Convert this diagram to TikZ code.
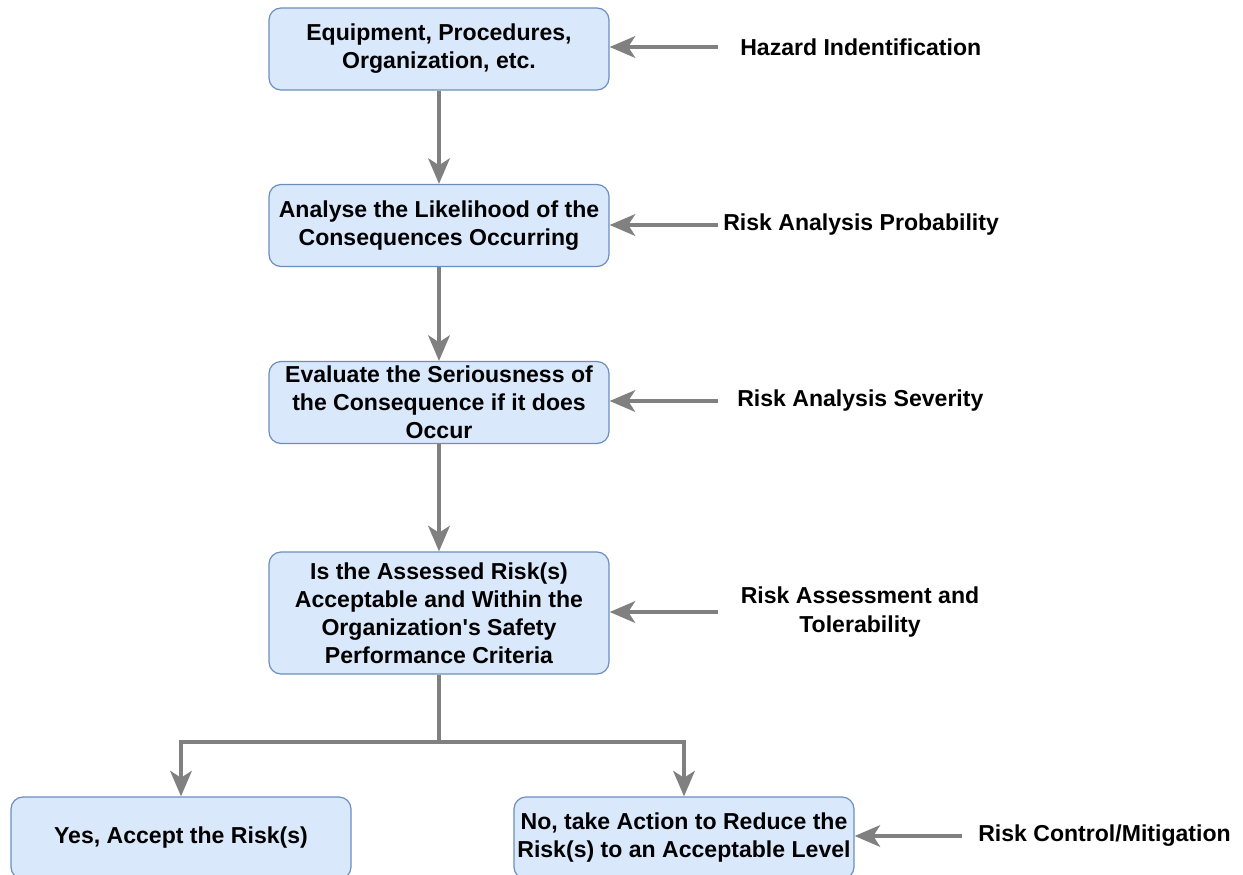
\documentclass[tikz,border=0pt]{standalone}
\usepackage{fontspec}
\setmainfont{Liberation Sans}
\usetikzlibrary{arrows.meta}
\definecolor{boxfill}{HTML}{DAE8FC}
\definecolor{boxline}{HTML}{6C8EBF}
\definecolor{flowgray}{HTML}{808080}
\begin{document}
\begin{tikzpicture}[x=0.75pt,y=-0.75pt,
  stepbox/.style={draw=boxline, fill=boxfill, line width=0.9pt, rounded corners=9pt,
    minimum width=255pt, minimum height=61.5pt, align=center, inner sep=2pt,
    font=\fontsize{17.3}{21}\selectfont\bfseries},
  tag/.style={align=center, inner sep=0pt, font=\fontsize{17.3}{21.5}\selectfont\bfseries},
  link/.style={draw=flowgray, line width=3.5pt},
  flow/.style={link, -{Stealth[length=19pt,width=16pt,inset=5pt]}}]
\useasboundingbox (0,0) rectangle (1243,875);

% process steps
\node[stepbox] (equip) at (439,49) {Equipment, Procedures,\\Organization, etc.};
\node[stepbox] (likely) at (439,225.5) {Analyse the Likelihood of the\\Consequences Occurring};
\node[stepbox] (serious) at (439,402.5) {Evaluate the Seriousness of\\the Consequence if it does\\Occur};
\node[stepbox, minimum height=91.5pt] (accept) at (439,613) {Is the Assessed Risk(s)\\Acceptable and Within the\\Organization\textquotesingle s Safety\\Performance Criteria};
\node[stepbox] (yes) at (181,838) {Yes, Accept the Risk(s)};
\node[stepbox] (reduce) at (684,838) {No, take Action to Reduce the\\Risk(s) to an Acceptable Level};

% stage labels on the right
\node[tag, anchor=west] (hazard) at (740,47) {Hazard Indentification};
\node[tag, anchor=west] (prob) at (723,225) {Risk Analysis Probability};
\node[tag, anchor=west] (sev) at (737,401) {Risk Analysis Severity};
\node[tag] (toler) at (860,612) {Risk Assessment and\\Tolerability};
\node[tag, anchor=west] (mitig) at (978,836) {Risk Control/Mitigation};

% tails of the side arrows
\coordinate (hazardtail) at (718,47);
\coordinate (probtail) at (718,225);
\coordinate (sevtail) at (718,401);
\coordinate (tolertail) at (718,612);
\coordinate (mitigtail) at (962,836);
\coordinate (fork) at (439,742);

% main flow
\draw[flow] (equip) -- (likely);
\draw[flow] (likely) -- (serious);
\draw[flow] (serious) -- (accept);
\draw[link] (accept.south) -- (fork);
\draw[flow] (fork) -| (yes.north);
\draw[flow] (fork) -| (reduce.north);

% side inputs
\draw[flow] (hazardtail) -- (hazardtail -| equip.east);
\draw[flow] (probtail) -- (probtail -| likely.east);
\draw[flow] (sevtail) -- (sevtail -| serious.east);
\draw[flow] (tolertail) -- (tolertail -| accept.east);
\draw[flow] (mitigtail) -- (mitigtail -| reduce.east);
\end{tikzpicture}
\end{document}
